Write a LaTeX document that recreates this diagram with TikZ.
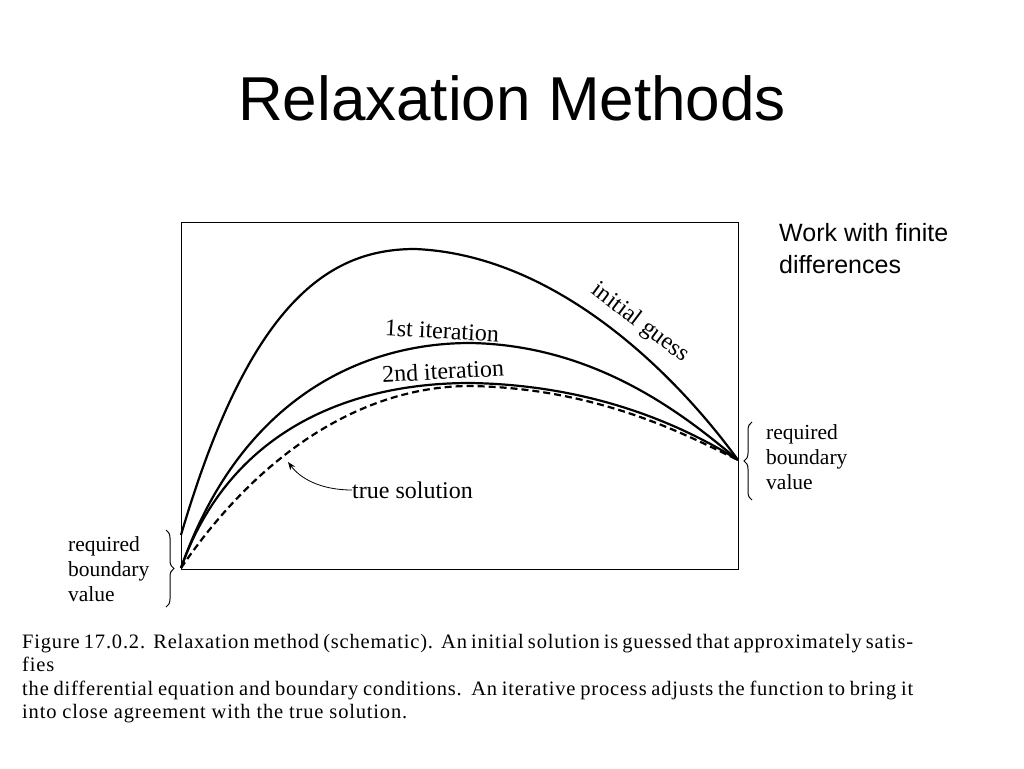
\documentclass[tikz,border=0pt]{standalone}
\usepackage{fontspec}
\setmainfont{Liberation Serif}
\newfontfamily\arialf{Liberation Sans}
\newfontfamily\capfont[LetterSpace=4]{Liberation Serif}
\usetikzlibrary{decorations.pathreplacing,arrows.meta}
\begin{document}
\begin{tikzpicture}[x=1pt,y=-1pt,
  crv/.style={line width=2.2pt},
  lbl/.style={font=\fontsize{24}{24}\selectfont, inner sep=0pt},
  brc/.style={decorate,decoration={brace,amplitude=8pt},line width=1pt},
  side/.style={font=\fontsize{21.5}{25}\selectfont, align=left, anchor=west, inner sep=0pt}]
\useasboundingbox (0,0) rectangle (1024,768);
\node[font=\arialf\fontsize{62}{62}\selectfont] (title) at (512,98) {Relaxation Methods};
\node[font=\arialf\fontsize{25}{32}\selectfont, align=left, anchor=north west, inner sep=0pt] (note) at (779,223) {Work with finite\\differences};
\draw[line width=0.9pt] (181,222) rectangle (738,569);
\coordinate (L) at (181,568);
\coordinate (R) at (738,460);
\draw[crv] (181,535) .. controls (250,300) and (330,249) .. (415,249) .. controls (560,255) and (680,380) .. (R);
\draw[crv] (L) .. controls (240,400) and (360,343) .. (470,343) .. controls (600,345) and (690,420) .. (R);
\draw[crv] (L) .. controls (230,430) and (350,383) .. (470,383) .. controls (600,385) and (690,430) .. (R);
\draw[crv,dash pattern=on 7pt off 4pt] (L) .. controls (265,445) and (370,386) .. (470,386) .. controls (600,388) and (690,437) .. (R);
\node[lbl,rotate=-37] (ig) at (640,323) {initial guess};
\node[lbl,rotate=-3] (it1) at (442,331) {1st iteration};
\node[lbl,rotate=3] (it2) at (443,371) {2nd iteration};
\node[lbl,anchor=west] (ts) at (352,490) {true solution};
\coordinate (tsa) at (288,462);
\draw[-{Stealth[length=8pt]},line width=0.8pt] (ts.west) .. controls (320,490) and (300,478) .. (tsa);
\draw[brc] (752,500) -- (752,422);
\node[side] (rb) at (766,457) {required\\boundary\\value};
\draw[brc] (166,530) -- (166,607);
\node[side] (lb) at (68,569) {required\\boundary\\value};
\node[font=\capfont\fontsize{20.5}{23.5}\selectfont, text width=891pt, align=justify, anchor=north west, inner sep=0pt] (cap) at (22,634) {Figure 17.0.2.\ \ Relaxation method (schematic).\ \ An initial solution is guessed that approximately satisfies\linebreak the differential equation and boundary conditions.\ \ An iterative process adjusts the function to bring it\linebreak into close agreement with the true solution.\par};
\end{tikzpicture}
\end{document}
